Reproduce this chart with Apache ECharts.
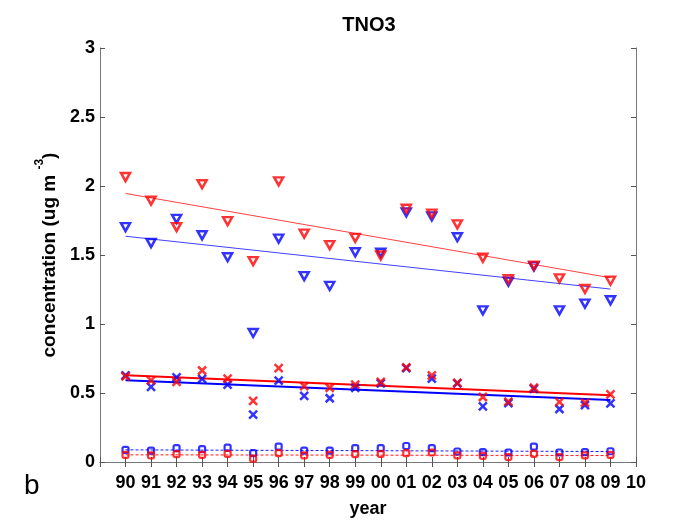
<!DOCTYPE html>
<html>
<head>
<meta charset="utf-8">
<script src="https://cdn.jsdelivr.net/npm/echarts@6/dist/echarts.min.js"></script>
<style>html,body{margin:0;padding:0;background:#fff;}#c{width:689px;height:523px;}</style>
</head>
<body>
<div id="c"></div>
<script>
// ---- data ----
const years = [1990,1991,1992,1993,1994,1995,1996,1997,1998,1999,2000,2001,2002,2003,2004,2005,2006,2007,2008,2009];
const redTri  = [2.065,1.894,1.702,2.013,1.745,1.456,2.034,1.655,1.572,1.624,1.496,1.835,1.800,1.722,1.480,1.324,1.423,1.331,1.255,1.314];
const blueTri = [1.702,1.587,1.762,1.643,1.484,0.935,1.619,1.347,1.276,1.520,1.516,1.809,1.780,1.629,1.099,1.307,1.418,1.099,1.148,1.172];
const redX    = [0.621,0.592,0.580,0.663,0.604,0.443,0.680,0.550,0.538,0.561,0.580,0.685,0.628,0.573,0.471,0.438,0.538,0.436,0.431,0.490];
const blueX   = [0.628,0.545,0.613,0.602,0.561,0.343,0.590,0.479,0.462,0.538,0.570,0.680,0.604,0.570,0.403,0.426,0.530,0.384,0.412,0.424];
const redSq   = [0.052,0.048,0.057,0.052,0.059,0.024,0.064,0.048,0.052,0.057,0.059,0.064,0.069,0.048,0.045,0.036,0.059,0.036,0.048,0.052];
const blueSq  = [0.088,0.083,0.100,0.093,0.104,0.064,0.111,0.083,0.083,0.100,0.100,0.116,0.100,0.076,0.071,0.069,0.111,0.069,0.071,0.078];
// trend lines: [value at first year, value at last year]
const trendYears   = [1990, 2009];
const redTriTrend  = [1.946, 1.335];
const blueTriTrend = [1.636, 1.253];
const redXTrend    = [0.628, 0.483];
const blueXTrend   = [0.592, 0.450];
const redSqTrend   = [0.052, 0.047];
const blueSqTrend  = [0.088, 0.076];
const yTicks = [0, 0.5, 1, 1.5, 2, 2.5, 3];

const RED = '#ff0000', BLUE = '#0000ff';
const pair = (xs, ys) => xs.map((x, i) => [x, ys[i]]);
const TRI = 'path://M0,0 L10,0 L5,9 Z';
const XM = 'path://M0,0 L10,10 M10,0 L0,10';

function scatter(name, data, sym, size, col, bw) {
  return {
    type: 'scatter', name: name, data: pair(years, data), symbol: sym, symbolSize: size,
    itemStyle: { color: 'rgba(0,0,0,0)', borderColor: col, borderWidth: bw },
    silent: true, z: 3
  };
}
function trend(name, vals, col, width, type, op) {
  return {
    type: 'line', name: name, data: pair(trendYears, vals), symbol: 'none',
    lineStyle: { color: col, width: width, type: type, opacity: op }, silent: true, z: 2
  };
}

const font = 'Liberation Sans, Arial, Helvetica, sans-serif';
const chart = echarts.init(document.getElementById('c'), null, { renderer: 'canvas' });
const axisLine = { show: true, lineStyle: { color: '#777', width: 1 } };
const tick = { show: true, inside: true, length: 5, lineStyle: { color: '#555' } };
chart.setOption({
  animation: false,
  backgroundColor: '#fff',
  title: {
    text: 'TNO3', left: 364, top: 10, textAlign: 'center',
    textStyle: { fontFamily: font, fontSize: 20, fontWeight: 'bold', color: '#000' }
  },
  grid: { left: 100, right: 53, top: 48, bottom: 52 },
  xAxis: [{
    type: 'value', min: 1989, max: 2010, interval: 1, position: 'bottom',
    name: 'year', nameLocation: 'middle', nameGap: 38,
    nameTextStyle: { fontFamily: font, fontSize: 18, fontWeight: 'bold', color: '#000' },
    axisLine: axisLine, axisTick: tick, splitLine: { show: false },
    axisLabel: {
      margin: 12, fontFamily: font, fontSize: 18, fontWeight: 'bold', color: '#000',
      formatter: v => (v < 1990 ? '' : String(v % 100).padStart(2, '0'))
    }
  }, {
    type: 'value', min: 1989, max: 2010, interval: 1, position: 'top',
    axisLine: axisLine, axisTick: tick, axisLabel: { show: false }, splitLine: { show: false }
  }],
  yAxis: [{
    type: 'value', min: yTicks[0], max: yTicks[yTicks.length - 1], interval: 0.5, position: 'left',
    name: '{a|concentration (ug m }{s|-3}{a|)}', nameLocation: 'middle', nameGap: 40, nameRotate: 90,
    nameTextStyle: {
      rich: {
        a: { fontFamily: font, fontSize: 19, fontWeight: 'bold', color: '#000', lineHeight: 25, verticalAlign: 'bottom' },
        s: { fontFamily: font, fontSize: 12, fontWeight: 'bold', color: '#000', lineHeight: 25, verticalAlign: 'top' }
      }
    },
    axisLine: axisLine, axisTick: tick, splitLine: { show: false },
    axisLabel: { margin: 5, fontFamily: font, fontSize: 18, fontWeight: 'bold', color: '#000',
      formatter: v => String(v) }
  }, {
    type: 'value', min: yTicks[0], max: yTicks[yTicks.length - 1], interval: 0.5, position: 'right',
    axisLine: axisLine, axisTick: tick, axisLabel: { show: false }, splitLine: { show: false }
  }],
  graphic: [{
    type: 'text', left: 24, top: 472,
    style: { text: 'b', fontFamily: font, fontSize: 28, fill: '#000' }
  }],
  series: [
    trend('blueSqTrend', blueSqTrend, BLUE, 1, [3, 2], 0.9),
    trend('redSqTrend', redSqTrend, RED, 1, [3, 2], 0.9),
    trend('blueTriTrend', blueTriTrend, BLUE, 1, 'solid', 0.75),
    trend('redTriTrend', redTriTrend, RED, 1, 'solid', 0.75),
    trend('blueXTrend', blueXTrend, BLUE, 2, 'solid', 1),
    trend('redXTrend', redXTrend, RED, 2, 'solid', 1),
    scatter('blueSq', blueSq, 'roundRect', 6, BLUE, 2.2),
    scatter('redSq', redSq, 'roundRect', 6, RED, 2.2),
    scatter('blueX', blueX, XM, 8, BLUE, 2.5),
    scatter('redX', redX, XM, 8, RED, 2.5),
    scatter('blueTri', blueTri, TRI, [9, 8], BLUE, 2.5),
    scatter('redTri', redTri, TRI, [9, 8], RED, 2.5)
  ]
});
</script>
</body>
</html>
